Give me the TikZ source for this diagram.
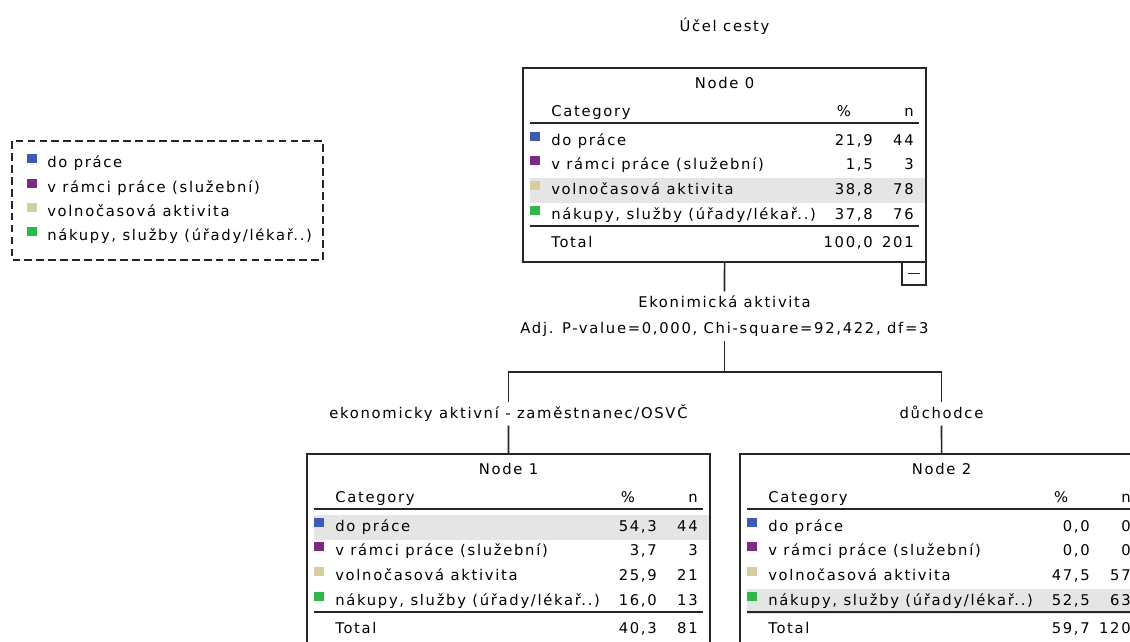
\documentclass[tikz,border=0pt]{standalone}
\usepackage{fontspec}
\setmainfont{DejaVu Sans}[LetterSpace=11.5]
\usetikzlibrary{positioning}

\definecolor{catblue}{RGB}{63,90,180}
\definecolor{catpurple}{RGB}{125,42,132}
\definecolor{catbeige}{RGB}{213,206,158}
\definecolor{catgreen}{RGB}{46,184,75}
\definecolor{rowgray}{RGB}{229,229,229}

% one category row of a tree node: prefix, row y, colour, label, percent, n
\newcommand{\catrow}[6]{%
  \fill[#3] (7,#2-9) rectangle (17,#2);
  \node[cell, anchor=base west] (#1-cat) at (28,#2+4) {#4};
  \node[cell, anchor=base east] (#1-pct) at (350,#2+4) {#5};
  \node[cell, anchor=base east] (#1-n) at (391,#2+4) {#6};}

% table head of a tree node: prefix, title
\newcommand{\cathead}[2]{%
  \node[cell, anchor=base] (#1-title) at (201.5,20) {#2};
  \node[cell, anchor=base west] (#1-hcat) at (28,48) {Category};
  \node[cell, anchor=base] (#1-hpct) at (321,48) {\%};
  \node[cell, anchor=base east] (#1-hn) at (391,48) {n};
  \draw[rule] (7,55) -- (396,55);}

% total line of a tree node: prefix, percent, n
\newcommand{\cattotal}[3]{%
  \draw[rule] (7,158) -- (396,158);
  \node[cell, anchor=base west] (#1-tot) at (28,179) {Total};
  \node[cell, anchor=base east] (#1-totpct) at (350,179) {#2};
  \node[cell, anchor=base east] (#1-totn) at (391,179) {#3};}

\begin{document}
\begin{tikzpicture}[x=0.025cm, y=-0.025cm,
  cell/.style={inner sep=0pt, font=\fontsize{10.5}{12}\selectfont},
  lbl/.style={inner sep=3pt, text height=8pt, text depth=2pt, font=\fontsize{10.5}{12}\selectfont},
  treebox/.style={draw=black!85, line width=1.2pt, inner sep=0pt, outer sep=0pt,
    minimum width=10.075cm, minimum height=4.85cm, anchor=north west},
  rule/.style={line width=1.3pt, black!85},
  link/.style={line width=1.1pt, black!85},
  band/.style={fill=rowgray},
  legendbox/.style={draw=black!85, line width=1pt, dash pattern=on 5.5pt off 3pt}]
  \useasboundingbox (0,0) rectangle (1130,641);
  \clip (0,0) rectangle (1130,641);

  \node[lbl] (target) at (724.5,27) {Účel cesty};

  % legend
  \draw[legendbox] (12,141) rectangle (323,260);
  \foreach \y/\c/\t in {163/catblue/do práce, 188/catpurple/v rámci práce (služební),
      212/catbeige/volnočasová aktivita, 236/catgreen/{nákupy, služby (úřady/lékař..)}} {
    \fill[\c] (27,\y-9) rectangle (37,\y);
    \node[cell, anchor=base west] (leg-\c) at (47,\y+4) {\t};
  }

  % node 0
  \node[treebox] (n0) at (523,68) {};
  \begin{scope}[shift={(523,68)}]
    \fill[band] (7,110) rectangle (402,135);
    \cathead{n0}{Node 0}
    \catrow{n0r1}{73}{catblue}{do práce}{21,9}{44}
    \catrow{n0r2}{97}{catpurple}{v rámci práce (služební)}{1,5}{3}
    \catrow{n0r3}{122}{catbeige}{volnočasová aktivita}{38,8}{78}
    \catrow{n0r4}{147}{catgreen}{nákupy, služby (úřady/lékař..)}{37,8}{76}
    \cattotal{n0}{100,0}{201}
    \draw[link] (379,194) rectangle (403,217);
    \draw[link] (385,205.5) -- (397,205.5);
  \end{scope}

  % split
  \node[lbl] (split) at (724.5,303) {Ekonimická aktivita};
  \node[lbl] (stat) at (724.5,329) {Adj. P-value=0,000, Chi-square=92,422, df=3};
  \node[lbl] (b1) at (508.5,414) {ekonomicky aktivní - zaměstnanec/OSVČ};
  \node[lbl] (b2) at (941.5,414) {důchodce};
  \coordinate (fork) at (724.5,372);

  % node 1
  \node[treebox] (n1) at (307,454) {};
  \begin{scope}[shift={(307,454)}]
    \fill[band] (7,61) rectangle (402,86);
    \cathead{n1}{Node 1}
    \catrow{n1r1}{73}{catblue}{do práce}{54,3}{44}
    \catrow{n1r2}{97}{catpurple}{v rámci práce (služební)}{3,7}{3}
    \catrow{n1r3}{122}{catbeige}{volnočasová aktivita}{25,9}{21}
    \catrow{n1r4}{147}{catgreen}{nákupy, služby (úřady/lékař..)}{16,0}{13}
    \cattotal{n1}{40,3}{81}
  \end{scope}

  % node 2
  \node[treebox] (n2) at (740,454) {};
  \begin{scope}[shift={(740,454)}]
    \fill[band] (7,135) rectangle (402,160);
    \cathead{n2}{Node 2}
    \catrow{n2r1}{73}{catblue}{do práce}{0,0}{0}
    \catrow{n2r2}{97}{catpurple}{v rámci práce (služební)}{0,0}{0}
    \catrow{n2r3}{122}{catbeige}{volnočasová aktivita}{47,5}{57}
    \catrow{n2r4}{147}{catgreen}{nákupy, služby (úřady/lékař..)}{52,5}{63}
    \cattotal{n2}{59,7}{120}
  \end{scope}

  \draw[link] (n0) -- (split);
  \draw[link] (stat) -- (fork);
  \draw[link] (b1.north) |- (fork) -| (b2.north);
  \draw[link] (b1) -- (n1);
  \draw[link] (b2) -- (n2);
\end{tikzpicture}
\end{document}
